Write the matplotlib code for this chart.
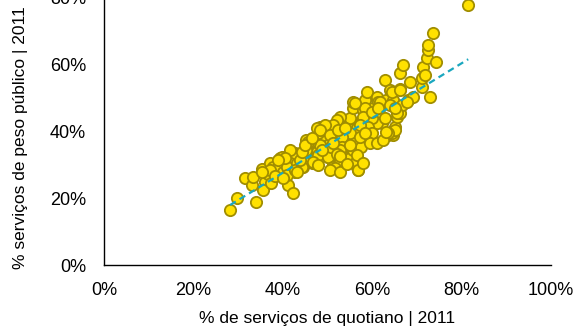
import numpy as np
import matplotlib
matplotlib.use("Agg")
import matplotlib.pyplot as plt
from matplotlib.ticker import PercentFormatter

plt.rcParams['font.family'] = ['Liberation Sans', 'DejaVu Sans']

# % de serviços de quotiano (x) vs % serviços de peso público (y), 2011
quotiano = [
    28.2, 29.7, 34.0, 31.5, 33.0, 33.3, 35.3, 36.0, 35.6, 37.1, 36.8, 37.9, 37.3,
    39.4, 39.0, 40.1, 41.2, 42.2, 41.6, 40.9, 42.7, 43.1, 44.2, 44.6, 42.7, 45.3,
    45.7, 46.5, 46.8, 47.6, 47.9, 48.3, 49.8, 50.2, 51.3, 50.9, 52.1, 52.4, 52.8,
    53.2, 53.5, 54.3, 54.7, 55.0, 55.8, 55.8, 56.2, 56.5, 56.9, 56.5, 57.6, 58.0,
    58.4, 58.8, 59.1, 59.9, 60.3, 61.0, 61.4, 61.7, 62.1, 62.9, 63.2, 63.6, 64.0,
    64.7, 65.1, 64.7, 65.5, 66.2, 66.2, 66.2, 67.0, 66.6, 68.1, 68.5, 69.2, 71.1,
    71.1, 71.4, 71.8, 72.2, 72.6, 72.6, 72.9, 73.7, 74.4, 81.5,
    61.7, 64.4, 66.2, 67.7, 65.5, 64.4, 65.1, 63.6, 61.0, 59.9, 58.4, 56.2, 58.0,
    59.1, 59.9, 56.5, 56.2, 55.0, 52.8, 52.1, 51.3, 53.2, 54.7, 53.2, 50.9, 50.6,
    49.1, 47.9, 47.6, 49.4, 48.3, 46.1, 45.3, 47.9, 50.2, 51.3, 52.8, 55.0, 56.2,
    56.9, 55.8, 57.6, 59.5, 57.3, 61.0, 62.5, 63.2, 52.8, 46.8, 44.6, 44.2,
    37.1, 39.8, 40.9, 42.7, 43.8, 44.2, 45.7, 46.8, 48.3, 50.6, 50.9, 51.7, 52.1,
    45.0, 46.5, 48.8, 52.3, 53.9, 55.0, 57.3, 58.4, 60.0, 61.3, 62.9, 64.0, 65.1,
    41.6, 40.5, 38.9, 35.3, 38.3, 40.0, 43.2, 47.9, 50.6, 52.8, 51.2, 52.9, 54.4,
    56.7, 57.9,
]
peso_publico = [
    16.4, 20.1, 18.8, 25.9, 23.9, 26.4, 28.6, 24.9, 22.4, 30.4, 27.2, 29.3, 24.4,
    31.9, 29.3, 27.9, 23.9, 21.6, 31.3, 29.3, 27.9, 30.4, 32.3, 29.3, 33.3, 37.3,
    34.8, 31.3, 30.4, 33.8, 39.3, 41.3, 37.3, 32.3, 29.9, 34.8, 39.3, 43.3, 36.3,
    33.3, 31.3, 41.3, 37.8, 43.8, 46.8, 48.8, 31.3, 29.3, 28.4, 38.3, 42.3, 46.3,
    49.3, 51.7, 40.3, 43.3, 46.8, 50.2, 48.8, 44.8, 42.3, 55.2, 49.3, 38.8, 52.2,
    38.8, 41.3, 49.3, 44.3, 45.3, 52.7, 57.2, 59.7, 47.8, 49.3, 54.7, 50.2, 53.2,
    55.7, 59.2, 56.7, 61.7, 64.2, 65.7, 50.2, 69.2, 60.6, 77.6,
    48.8, 51.7, 52.2, 48.8, 45.3, 39.3, 40.3, 39.3, 42.3, 43.8, 46.8, 48.3, 44.3,
    41.3, 39.3, 40.8, 37.3, 39.3, 44.3, 43.3, 41.8, 38.3, 35.3, 35.3, 35.3, 37.3,
    38.8, 39.3, 40.8, 41.8, 35.8, 36.8, 34.3, 32.8, 32.3, 29.3, 30.9, 31.9, 30.4,
    28.4, 34.3, 35.3, 36.3, 38.3, 36.3, 37.3, 39.8, 34.3, 30.4, 31.3, 29.3,
    28.4, 32.3, 26.9, 28.4, 31.3, 33.8, 36.8, 30.9, 40.3, 38.8, 35.3, 28.9, 33.1,
    35.8, 37.9, 34.3, 40.3, 40.9, 35.8, 41.8, 39.4, 45.7, 46.9, 43.9, 47.8, 46.9,
    34.3, 31.9, 31.3, 27.8, 26.6, 26.0, 27.8, 29.9, 28.4, 27.8, 36.5, 32.7, 30.2,
    32.8, 30.5,
]

x = np.array(quotiano) / 100
y = np.array(peso_publico) / 100

fig = plt.figure(figsize=(5.75, 3.26), dpi=100)
ax = fig.add_axes([0.181, 0.187, 0.777, 0.822])

ax.scatter(x, y, s=66, facecolor='#FFE100', edgecolor='#A08D00',
           linewidth=1.3, zorder=2)

# linear trend line
slope, intercept = np.polyfit(x, y, 1)
xs = np.array([x.min(), x.max()])
ax.plot(xs, slope * xs + intercept, linestyle=(0, (3, 2)), color='#1AA7BF',
        linewidth=1.6, zorder=3)

ax.set_xlim(0, 1)
ax.set_ylim(0, 0.8)
ax.set_xticks(np.arange(0, 1.01, 0.2))
ax.set_yticks(np.arange(0, 0.81, 0.2))
ax.xaxis.set_major_formatter(PercentFormatter(1, decimals=0))
ax.yaxis.set_major_formatter(PercentFormatter(1, decimals=0))

for loc in ['top', 'right']:
    ax.spines[loc].set_visible(False)
for loc in ['left', 'bottom']:
    ax.spines[loc].set_linewidth(1.0)
    ax.spines[loc].set_color('black')

ax.tick_params(length=0, labelsize=13, pad=12)
ax.tick_params(axis='y', pad=13)

ax.set_xlabel("% de serviços de quotiano | 2011", fontsize=12.5)
ax.set_ylabel("% serviços de peso público | 2011", fontsize=12.5)
ax.xaxis.set_label_coords(0.5, -0.17)
ax.yaxis.set_label_coords(-0.188, 0.474)
ax.yaxis.label.set_va('center')

fig.savefig("out.png", dpi=100)
